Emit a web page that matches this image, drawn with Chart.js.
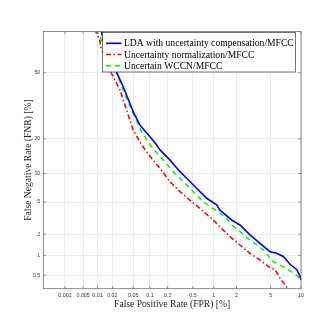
<!DOCTYPE html>
<html>
<head>
<meta charset="utf-8">
<script src="https://cdn.jsdelivr.net/npm/chart.js@4/dist/chart.umd.min.js"></script>
<style>
  html, body { margin: 0; padding: 0; background: #fff; }
  #det { display: block; }
</style>
</head>
<body>
<canvas id="det" width="332" height="332"></canvas>
<script>
// DET data, all values in %
const fprTicks = [0.002, 0.005, 0.01, 0.02, 0.05, 0.1, 0.2, 0.5, 1, 2, 5, 10];
const fprTickLabels = ['0.002', '0.005', '0.01', '0.02', '0.05', '0.1', '0.2', '0.5', '1', '2', '5', '10'];
const fnrTicks = [0.5, 1, 2, 5, 10, 20, 50];
const fnrTickLabels = ['0.5', '1', '2', '5', '10', '20', '50'];

const seriesNames = [
  'LDA with uncertainty compensation/MFCC',
  'Uncertainty normalization/MFCC',
  'Uncertain WCCN/MFCC'
];

const ldaFpr = [0.0117, 0.0127, 0.0142, 0.0179, 0.0243, 0.0325, 0.0435, 0.050, 0.0663, 0.100, 0.131, 0.149, 0.219, 0.316, 0.402, 0.568, 0.795, 1.10, 1.21, 1.73, 2.21, 2.92, 3.81, 4.92, 5.78, 6.76, 7.88, 9.17, 9.78, 10];
const ldaFnr = [71, 67.9, 62.3, 56.4, 50.0, 42.9, 34.8, 31.0, 25.3, 20.8, 17.9, 16.3, 13.3, 10.4, 8.96, 7.08, 5.51, 4.63, 4.04, 3.05, 2.64, 1.96, 1.50, 1.14, 1.08, 0.97, 0.74, 0.61, 0.48, 0.42];

const normFpr = [0.0087, 0.0112, 0.0117, 0.0142, 0.0193, 0.0282, 0.0377, 0.050, 0.0714, 0.107, 0.149, 0.219, 0.316, 0.478, 0.673, 0.984, 1.21, 1.65, 2.21, 2.92, 3.81, 4.92, 5.56, 6.26, 7.03, 7.57];
const normFnr = [71, 66.1, 62.9, 57.4, 49.6, 41.3, 31.7, 23.3, 17.9, 13.8, 11.2, 8.29, 6.51, 5.05, 4.04, 3.05, 2.51, 1.85, 1.42, 1.08, 0.86, 0.66, 0.61, 0.45, 0.35, 0.29];

const wccnFpr = [0.0098, 0.0104, 0.0118, 0.0161, 0.0243, 0.0303, 0.0468, 0.0714, 0.107, 0.149, 0.169, 0.247, 0.356, 0.506, 0.709, 1.04, 1.42, 1.65, 2.21, 2.92, 4.15, 5.33, 6.76, 8.48, 9.78, 10];
const wccnFnr = [71, 69.1, 66.9, 58.9, 50.5, 42.9, 31.7, 22.6, 17.3, 14.3, 13.3, 10.4, 8.29, 6.51, 5.05, 4.04, 3.36, 2.78, 2.16, 1.67, 1.21, 0.81, 0.68, 0.54, 0.45, 0.40];

// inverse normal cdf (Acklam)
function probit(p) {
  const a = [-39.69683028665376, 220.9460984245205, -275.9285104469687, 138.3577518672690, -30.66479806614716, 2.506628274631000];
  const b = [-54.47609879822406, 161.5858368580409, -155.6989798598866, 66.80131188771972, -13.28068155288572];
  const c = [-0.007784894002430293, -0.3223964580411365, -2.400758277161838, -2.549732539343734, 4.374664141464968, 2.938163982698783];
  const d = [0.007784695709041462, 0.3224671290700398, 2.445134137142996, 3.754408661907416];
  const pl = 0.02425;
  let q, r;
  if (p < pl) {
    q = Math.sqrt(-2 * Math.log(p));
    return (((((c[0]*q+c[1])*q+c[2])*q+c[3])*q+c[4])*q+c[5]) / ((((d[0]*q+d[1])*q+d[2])*q+d[3])*q+1);
  }
  if (p <= 1 - pl) {
    q = p - 0.5; r = q * q;
    return (((((a[0]*r+a[1])*r+a[2])*r+a[3])*r+a[4])*r+a[5])*q / (((((b[0]*r+b[1])*r+b[2])*r+b[3])*r+b[4])*r+1);
  }
  q = Math.sqrt(-2 * Math.log(1 - p));
  return -(((((c[0]*q+c[1])*q+c[2])*q+c[3])*q+c[4])*q+c[5]) / ((((d[0]*q+d[1])*q+d[2])*q+d[3])*q+1);
}

// normal cdf, only for pixel -> value
function normcdf(z) {
  const t = 1 / (1 + 0.3275911 * Math.abs(z) / Math.SQRT2);
  const y = 1 - (((((1.061405429*t - 1.453152027)*t) + 1.421413741)*t - 0.284496736)*t + 0.254829592)*t*Math.exp(-z*z/2);
  return z >= 0 ? (1 + y) / 2 : (1 - y) / 2;
}

// normal deviate (probit) axis, values in percent
class ProbitScale extends Chart.Scale {
  determineDataLimits() {
    this.min = this.options.min;
    this.max = this.options.max;
  }
  buildTicks() {
    const vals = this.axis === 'x' ? fprTicks : fnrTicks;
    return vals.map(v => ({ value: v }));
  }
  configure() {
    super.configure();
    this._startValue = probit(this.min / 100);
    this._valueRange = probit(this.max / 100) - this._startValue;
  }
  getPixelForValue(value) {
    if (value === undefined || value === null || isNaN(value)) return NaN;
    return this.getPixelForDecimal((probit(value / 100) - this._startValue) / this._valueRange);
  }
  getValueForPixel(pixel) {
    const dec = this.getDecimalForPixel(pixel);
    return normcdf(this._startValue + dec * this._valueRange) * 100;
  }
}
ProbitScale.id = 'probit';
ProbitScale.defaults = {};
Chart.register(ProbitScale);

const toPoints = (xs, ys) => xs.map((x, i) => ({ x: x, y: ys[i] }));

const serif = '"Liberation Serif", "Times New Roman", serif';
const sans = '"Liberation Sans", Arial, sans-serif';

// box, inner ticks and legend drawn like the matlab figure
const detFrame = {
  id: 'detFrame',
  afterDraw(chart) {
    const ctx = chart.ctx;
    const { left, right, top, bottom } = chart.chartArea;
    const xs = chart.scales.x, ys = chart.scales.y;
    ctx.save();
    ctx.strokeStyle = '#6e6e6e';
    ctx.lineWidth = 0.8;
    ctx.strokeRect(left, top, right - left, bottom - top);
    ctx.beginPath();
    const tl = 2.6;
    fprTicks.forEach(v => {
      const px = xs.getPixelForValue(v);
      ctx.moveTo(px, bottom); ctx.lineTo(px, bottom - tl);
      ctx.moveTo(px, top); ctx.lineTo(px, top + tl);
    });
    fnrTicks.forEach(v => {
      const py = ys.getPixelForValue(v);
      ctx.moveTo(left, py); ctx.lineTo(left + tl, py);
      ctx.moveTo(right, py); ctx.lineTo(right - tl, py);
    });
    ctx.stroke();

    // legend
    const lx0 = 102.5, lx1 = 295.5, ly0 = 32.5, ly1 = 72;
    ctx.fillStyle = '#fff';
    ctx.fillRect(lx0, ly0, lx1 - lx0, ly1 - ly0);
    ctx.strokeStyle = '#3a3a3a';
    ctx.lineWidth = 0.7;
    ctx.strokeRect(lx0, ly0, lx1 - lx0, ly1 - ly0);
    ctx.font = '9.6px ' + serif;
    ctx.textBaseline = 'middle';
    ctx.textAlign = 'left';
    chart.data.datasets.forEach((ds, i) => {
      const y = 43.3 + i * 11.2;
      ctx.beginPath();
      ctx.strokeStyle = ds.borderColor;
      ctx.lineWidth = ds.borderWidth;
      ctx.setLineDash(ds.borderDash || []);
      ctx.moveTo(106, y);
      ctx.lineTo(121.5, y);
      ctx.stroke();
      ctx.setLineDash([]);
      ctx.fillStyle = '#000';
      ctx.fillText(ds.label, 124, y + 0.5);
    });
    ctx.restore();
  }
};

new Chart(document.getElementById('det'), {
  type: 'line',
  data: {
    datasets: [
      {
        label: seriesNames[0],
        data: toPoints(ldaFpr, ldaFnr),
        borderColor: '#0000ff',
        borderWidth: 1.6,
        pointRadius: 0,
        fill: false,
        tension: 0
      },
      {
        label: seriesNames[1],
        data: toPoints(normFpr, normFnr),
        borderColor: '#ff0000',
        borderWidth: 1.6,
        borderDash: [5, 2.5, 1.5, 2.5],
        pointRadius: 0,
        fill: false,
        tension: 0
      },
      {
        label: seriesNames[2],
        data: toPoints(wccnFpr, wccnFnr),
        borderColor: '#00ff00',
        borderWidth: 1.6,
        borderDash: [5, 4],
        pointRadius: 0,
        fill: false,
        tension: 0
      }
    ]
  },
  options: {
    responsive: false,
    animation: false,
    devicePixelRatio: 1,
    events: [],
    parsing: true,
    layout: { padding: { top: 31.5, right: 31, left: 0, bottom: 0 } },
    plugins: {
      legend: { display: false },
      tooltip: { enabled: false }
    },
    scales: {
      x: {
        type: 'probit',
        position: 'bottom',
        min: 0.00063,
        max: 10,
        afterFit: (scale) => { scale.height = 43.3; },
        grid: { color: '#e6e6e6', lineWidth: 0.8, drawTicks: false },
        border: { display: false },
        ticks: {
          autoSkip: false,
          maxRotation: 0,
          padding: 4,
          color: '#333',
          font: { family: sans, size: 5.3 },
          callback: (v, i) => fprTickLabels[i]
        },
        title: {
          display: true,
          text: 'False Positive Rate (FPR) [%]',
          color: '#262626',
          font: { family: serif, size: 9.6 },
          padding: { top: 0, bottom: 21.9 }
        }
      },
      y: {
        type: 'probit',
        position: 'left',
        min: 0.3,
        max: 70,
        afterFit: (scale) => { scale.width = 43.3; },
        grid: { color: '#e6e6e6', lineWidth: 0.8, drawTicks: false },
        border: { display: false },
        ticks: {
          autoSkip: false,
          padding: 3,
          color: '#333',
          font: { family: sans, size: 5.3 },
          callback: (v, i) => fnrTickLabels[i]
        },
        title: {
          display: true,
          text: 'False Negative Rate (FNR) [%]',
          color: '#262626',
          font: { family: serif, size: 9.6 },
          padding: { top: 22.5, bottom: 0 }
        }
      }
    }
  },
  plugins: [detFrame]
});
</script>
</body>
</html>
